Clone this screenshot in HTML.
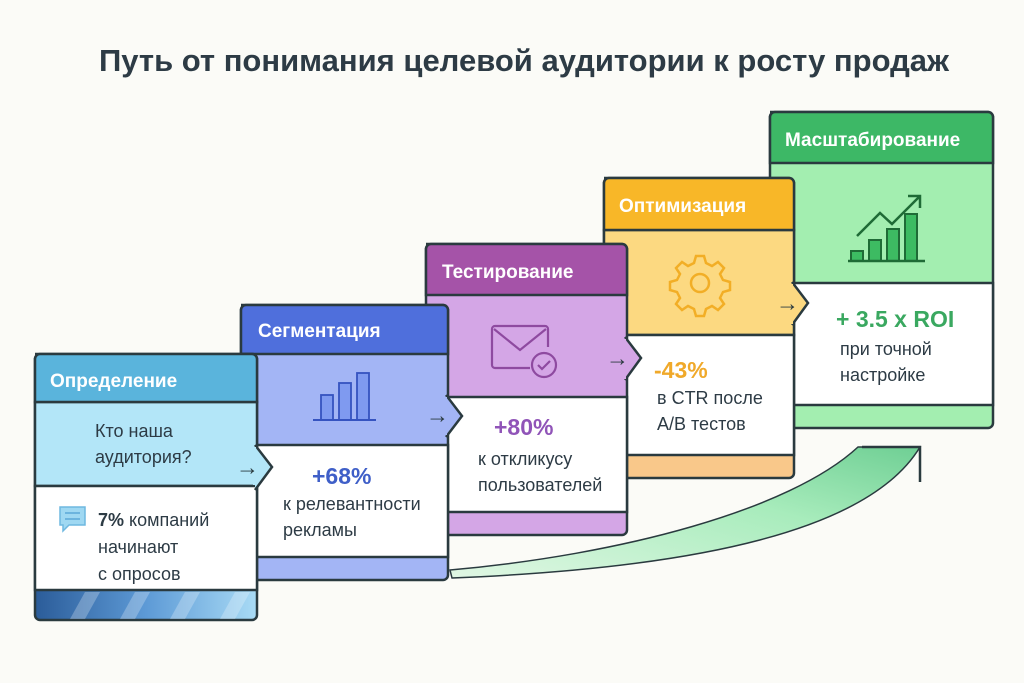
<!DOCTYPE html>
<html><head><meta charset="utf-8"><style>
html,body{margin:0;padding:0;background:#fbfbf7;}
svg{display:block;font-family:"Liberation Sans",sans-serif;}
</style></head><body>
<svg width="1024" height="683" viewBox="0 0 1024 683" xmlns="http://www.w3.org/2000/svg">
<defs>
<linearGradient id="rib" x1="0" y1="1" x2="1" y2="0">
<stop offset="0" stop-color="#e0f7e4"/><stop offset="0.6" stop-color="#a8ecbc"/><stop offset="1" stop-color="#6fcf94"/></linearGradient>
<linearGradient id="stripe" x1="0" y1="0" x2="1" y2="0">
<stop offset="0" stop-color="#2b5c99"/><stop offset="0.5" stop-color="#5d9ad6"/><stop offset="1" stop-color="#a9dbf5"/></linearGradient>
</defs>
<rect width="1024" height="683" fill="#fbfbf7"/>
<text x="524" y="71" text-anchor="middle" font-size="31" font-weight="bold" fill="#2d3b45">Путь от понимания целевой аудитории к росту продаж</text>

<!-- green ribbon -->
<path d="M450 570 C620 555 790 510 858 447 L920 447 C870 530 700 568 452 578 Z" fill="url(#rib)" stroke="#2a3a3f" stroke-width="1.5"/>
<path d="M862 447 L920 447 L920 482" fill="none" stroke="#2a3a3f" stroke-width="2.5"/>

<!-- Card5 -->
<g stroke="#2a3a3f" stroke-width="2.5">
<rect x="770" y="112" width="223" height="316" rx="5" fill="#a3eeb0"/>
<rect x="770" y="283" width="223" height="122" fill="#fff"/>
</g>
<path d="M770 112 h218 a5 5 0 0 1 5 5 v46 h-223 v-46 a5 5 0 0 1 5-5z" fill="#3db866" stroke="#2a3a3f" stroke-width="2.5"/>
<text x="785" y="146" font-size="19" font-weight="bold" fill="#fff">Масштабирование</text>
<g fill="#3dbb62" stroke="#1f6b36" stroke-width="2">
<rect x="851" y="251" width="12" height="10"/><rect x="869" y="240" width="12" height="21"/><rect x="887" y="229" width="12" height="32"/><rect x="905" y="214" width="12" height="47"/>
</g>
<line x1="848" y1="261" x2="925" y2="261" stroke="#1f6b36" stroke-width="2.5"/>
<path d="M857 236 L880 213 L892 224 L920 196 M908 196 L920 196 L920 208" fill="none" stroke="#1f6b36" stroke-width="2.5"/>
<text x="836" y="327" font-size="23" font-weight="bold" fill="#3aa860">+ 3.5 x ROI</text>
<text x="840" y="355" font-size="18" fill="#2d3b45">при точной</text>
<text x="840" y="381" font-size="18" fill="#2d3b45">настройке</text>

<!-- Card4 -->
<g stroke="#2a3a3f" stroke-width="2.5">
<rect x="604" y="178" width="190" height="300" rx="5" fill="#f9c88a"/>
<rect x="604" y="230" width="190" height="105" fill="#fcd981"/>
<rect x="604" y="335" width="190" height="120" fill="#fff"/>
</g>
<path d="M792 282 L808 303 L792 325" fill="#fcd981" stroke="#2a3a3f" stroke-width="2.5"/>
<rect x="790" y="284" width="3" height="40" fill="#fcd981"/>
<path d="M604 178 h185 a5 5 0 0 1 5 5 v47 h-190 v-47 a5 5 0 0 1 5-5z" fill="#f8b728" stroke="#2a3a3f" stroke-width="2.5"/>
<text x="619" y="212" font-size="19" font-weight="bold" fill="#fff">Оптимизация</text>
<g transform="translate(700,283)" fill="none" stroke="#f2ae26" stroke-width="2.5">
<path d="M-4 -27 h8 l2 7 l6 3 l6 -4 l6 6 l-4 6 l3 6 l7 2 v8 l-7 2 l-3 6 l4 6 l-6 6 l-6 -4 l-6 3 l-2 7 h-8 l-2 -7 l-6 -3 l-6 4 l-6 -6 l4 -6 l-3 -6 l-7 -2 v-8 l7 -2 l3 -6 l-4 -6 l6 -6 l6 4 l6 -3 z"/>
<circle r="9"/></g>
<text x="776" y="311" font-size="23" fill="#2a3a3f">→</text>
<text x="654" y="378" font-size="23" font-weight="bold" fill="#f0a92a">-43%</text>
<text x="657" y="404" font-size="18" fill="#2d3b45">в CTR после</text>
<text x="657" y="430" font-size="18" fill="#2d3b45">A/B тестов</text>

<!-- Card3 -->
<g stroke="#2a3a3f" stroke-width="2.5">
<rect x="426" y="244" width="201" height="291" rx="5" fill="#d4a6e6"/>
<rect x="426" y="397" width="201" height="115" fill="#fff"/>
</g>
<path d="M625 337 L641 358 L625 380" fill="#d4a6e6" stroke="#2a3a3f" stroke-width="2.5"/>
<rect x="623" y="339" width="3" height="40" fill="#d4a6e6"/>
<path d="M426 244 h196 a5 5 0 0 1 5 5 v46 h-201 v-46 a5 5 0 0 1 5-5z" fill="#a553a8" stroke="#2a3a3f" stroke-width="2.5"/>
<text x="442" y="278" font-size="19" font-weight="bold" fill="#fff">Тестирование</text>
<g fill="none" stroke="#8e4aa0" stroke-width="2.2">
<path d="M530 368 h-35 a3 3 0 0 1 -3 -3 v-36 a3 3 0 0 1 3 -3 h50 a3 3 0 0 1 3 3 v18"/>
<path d="M494 329 L520 350 L546 329"/>
<circle cx="544" cy="365" r="12"/><path d="M538 365 l4 4 l8 -8"/></g>
<text x="606" y="366" font-size="23" fill="#2a3a3f">→</text>
<text x="494" y="435" font-size="23" font-weight="bold" fill="#9054b8">+80%</text>
<text x="478" y="465" font-size="18" fill="#2d3b45">к откликусу</text>
<text x="478" y="491" font-size="18" fill="#2d3b45">пользователей</text>

<!-- Card2 -->
<g stroke="#2a3a3f" stroke-width="2.5">
<rect x="241" y="305" width="207" height="275" rx="5" fill="#a3b5f5"/>
<rect x="241" y="445" width="207" height="112" fill="#fff"/>
</g>
<path d="M446 395 L462 416 L446 437" fill="#a3b5f5" stroke="#2a3a3f" stroke-width="2.5"/>
<rect x="444" y="397" width="3" height="38" fill="#a3b5f5"/>
<path d="M241 305 h202 a5 5 0 0 1 5 5 v44 h-207 v-44 a5 5 0 0 1 5-5z" fill="#4f6fdc" stroke="#2a3a3f" stroke-width="2.5"/>
<text x="258" y="337" font-size="19" font-weight="bold" fill="#fff">Сегментация</text>
<g fill="#7f9af0" stroke="#3553c0" stroke-width="1.8">
<rect x="321" y="395" width="12" height="25"/><rect x="339" y="383" width="12" height="37"/><rect x="357" y="373" width="12" height="47"/></g>
<line x1="313" y1="420" x2="376" y2="420" stroke="#3553c0" stroke-width="2"/>
<text x="426" y="423" font-size="23" fill="#2a3a3f">→</text>
<text x="312" y="484" font-size="23" font-weight="bold" fill="#3f5fc8">+68%</text>
<text x="283" y="510" font-size="18" fill="#2d3b45">к релевантности</text>
<text x="283" y="536" font-size="18" fill="#2d3b45">рекламы</text>

<!-- Card1 -->
<g stroke="#2a3a3f" stroke-width="2.5">
<rect x="35" y="354" width="222" height="266" rx="5" fill="url(#stripe)"/>
<rect x="35" y="402" width="222" height="84" fill="#b3e6f8"/>
<rect x="35" y="486" width="222" height="104" fill="#fff"/>
</g>
<g fill="#ffffff" opacity="0.25">
<path d="M70 619 L85 592 L100 592 L85 619z"/><path d="M120 619 L135 592 L150 592 L135 619z"/><path d="M170 619 L185 592 L200 592 L185 619z"/><path d="M220 619 L235 592 L250 592 L235 619z"/></g>
<path d="M255 445 L272 467 L255 490" fill="#b3e6f8" stroke="#2a3a3f" stroke-width="2.5"/>
<rect x="253" y="447" width="3" height="38" fill="#b3e6f8"/>
<path d="M35 354 h217 a5 5 0 0 1 5 5 v43 h-222 v-43 a5 5 0 0 1 5-5z" fill="#5ab4dc" stroke="#2a3a3f" stroke-width="2.5"/>
<text x="50" y="387" font-size="19" font-weight="bold" fill="#fff">Определение</text>
<text x="95" y="437" font-size="18" fill="#2d3b45">Кто наша</text>
<text x="95" y="463" font-size="18" fill="#2d3b45">аудитория?</text>
<text x="236" y="475" font-size="23" fill="#2a3a3f">→</text>
<g><path d="M60 507 h25 v18 h-16 l-6 6 v-6 h-3z" fill="#9fd8f2" stroke="#6fb8e0" stroke-width="1.5"/>
<line x1="65" y1="513" x2="80" y2="513" stroke="#5aa8d8" stroke-width="1.5"/><line x1="65" y1="519" x2="80" y2="519" stroke="#5aa8d8" stroke-width="1.5"/></g>
<text x="98" y="526" font-size="18" fill="#2d3b45"><tspan font-weight="bold">7%</tspan> компаний</text>
<text x="98" y="553" font-size="18" fill="#2d3b45">начинают</text>
<text x="98" y="580" font-size="18" fill="#2d3b45">с опросов</text>
</svg>
</body></html>
